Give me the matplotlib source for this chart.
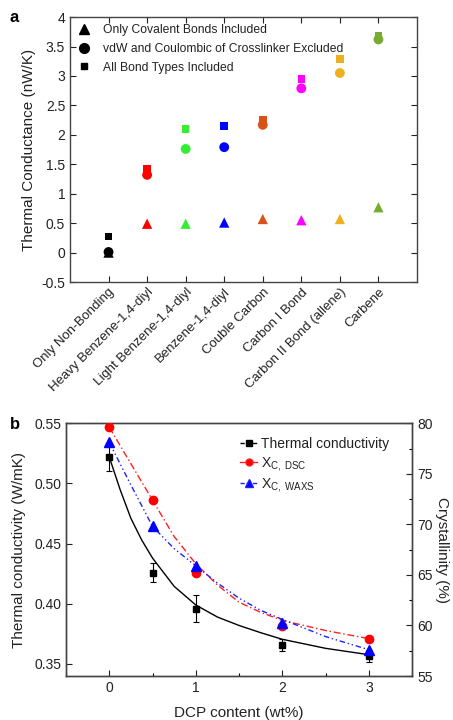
import matplotlib
matplotlib.use("Agg")
import matplotlib.pyplot as plt
from matplotlib.lines import Line2D
from matplotlib.ticker import MultipleLocator, FuncFormatter

plt.rcParams['font.family'] = ['Liberation Sans', 'DejaVu Sans']
plt.rcParams['mathtext.fontset'] = 'custom'
plt.rcParams['mathtext.rm'] = 'Liberation Sans'
plt.rcParams['mathtext.it'] = 'Liberation Sans'

# ---------------- Panel a data ----------------
categories = ["Only Non-Bonding", "Heavy Benzene-1,4-diyl", "Light Benzene-1,4-diyl",
              "Benzene-1,4-diyl", "Couble Carbon", "Carbon I Bond",
              "Carbon II Bond (allene)", "Carbene"]
colors_a = ["#000000", "#ff0000", "#33ee33", "#0000ff", "#d95319", "#ff00ff", "#edb120", "#77ac30"]
covalent_only = [0.00, 0.49, 0.49, 0.51, 0.57, 0.55, 0.57, 0.77]
vdw_excluded = [0.01, 1.32, 1.76, 1.79, 2.17, 2.79, 3.05, 3.62]
all_bonds = [0.27, 1.42, 2.10, 2.15, 2.25, 2.95, 3.29, 3.69]
legend_a = ["Only Covalent Bonds Included", "vdW and Coulombic of Crosslinker Excluded",
            "All Bond Types Included"]

# ---------------- Panel b data ----------------
dcp = [0, 0.5, 1, 2, 3]
tc = [0.522, 0.426, 0.396, 0.366, 0.357]
tc_err = [0.012, 0.008, 0.011, 0.005, 0.005]
xc_dsc = [79.6, 72.4, 65.2, 59.9, 58.7]
xc_waxs = [78.1, 69.8, 65.9, 60.2, 57.6]
# fitted curves
tc_fit_x = [0, 0.125, 0.25, 0.375, 0.5, 0.75, 1, 1.25, 1.5, 1.75, 2, 2.5, 3]
tc_fit = [0.522, 0.495, 0.471, 0.453, 0.438, 0.4145, 0.399, 0.389, 0.382, 0.376, 0.3705, 0.363, 0.3577]
xc_fit_x = [0, 0.25, 0.5, 0.75, 1, 1.25, 1.5, 1.75, 2, 2.5, 3]
dsc_fit = [79.6, 76.0, 72.4, 68.8, 66.1, 64.0, 62.3, 61.3, 60.5, 59.5, 58.7]
waxs_fit = [78.1, 73.9, 69.8, 67.6, 65.9, 64.2, 62.7, 61.5, 60.6, 58.9, 57.6]

fig = plt.figure(figsize=(4.53, 7.20), dpi=100)

# ---------------- Panel a ----------------
ax = fig.add_axes([0.1545, 0.6083, 0.766, 0.368])
xs = list(range(1, len(categories) + 1))
ax.scatter(xs, all_bonds, marker='s', s=30, c=colors_a, zorder=3, linewidths=0)
ax.scatter(xs, covalent_only, marker='^', s=55, c=colors_a, zorder=3, linewidths=0)
ax.scatter(xs, vdw_excluded, marker='o', s=50, c=colors_a, zorder=4, linewidths=0)
ax.set_xlim(0, 9)
ax.set_ylim(-0.5, 4)
ax.yaxis.set_major_locator(MultipleLocator(0.5))
ax.yaxis.set_major_formatter(FuncFormatter(lambda v, p: ('%g' % v)))
ax.set_xticks(xs)
ax.set_xticklabels(categories, rotation=45, ha='right', rotation_mode='anchor', fontsize=9.5, color='#222222')
ax.tick_params(direction='in', top=True, right=True, length=4, width=0.8, labelsize=10, colors='#222222')
ax.tick_params(axis='x', pad=3, labelsize=9.5)
ax.set_ylabel("Thermal Conductance (nW/K)", fontsize=11, color='#222222', labelpad=4)
for sp in ax.spines.values():
    sp.set_linewidth(1.0)
    sp.set_color('#444444')
handles_a = [Line2D([], [], ls='none', marker='^', color='k', markersize=7),
             Line2D([], [], ls='none', marker='o', color='k', markersize=7),
             Line2D([], [], ls='none', marker='s', color='k', markersize=5)]
ax.legend(handles_a, legend_a, loc='upper left', frameon=False, fontsize=8.7,
          handlelength=1.2, handletextpad=0.9, borderaxespad=0.2, borderpad=0.4,
          labelspacing=0.55, labelcolor='#222222')
fig.text(0.022, 0.975, "a", fontsize=12, fontweight='bold', va='center')

# ---------------- Panel b ----------------
bx = fig.add_axes([0.1457, 0.0611, 0.764, 0.351])
bx.plot(tc_fit_x, tc_fit, color='k', lw=1.0, zorder=2)
bx.errorbar(dcp, tc, yerr=tc_err, fmt='s', color='k', markersize=5, capsize=2,
            elinewidth=0.8, capthick=0.8, zorder=3)
bx.set_xlim(-0.5, 3.5)
bx.set_ylim(0.34, 0.55)
bx.set_xticks([0, 1, 2, 3])
bx.xaxis.set_minor_locator(MultipleLocator(0.5))
bx.yaxis.set_major_locator(MultipleLocator(0.05))
bx.yaxis.set_major_formatter(FuncFormatter(lambda v, p: '%.2f' % v))
bx.tick_params(direction='in', length=4, width=0.8, labelsize=10, colors='#222222')
bx.tick_params(which='minor', direction='in', length=2, width=0.8)
bx.set_xlabel("DCP content (wt%)", fontsize=11, color='#222222', labelpad=8)
bx.set_ylabel("Thermal conductivity (W/mK)", fontsize=11, color='#222222', labelpad=6)

cx = bx.twinx()
cx.plot(xc_fit_x, dsc_fit, color='#ff2020', lw=1.0, dashes=[5, 2, 1, 2], zorder=2)
cx.plot(xc_fit_x, waxs_fit, color='#2020ff', lw=1.0, dashes=[4, 2, 1, 2, 1, 2], zorder=2)
cx.plot(dcp, xc_dsc, ls='none', marker='o', color='#ff0000', markersize=6, zorder=3)
cx.plot(dcp, xc_waxs, ls='none', marker='^', color='#0000ff', markersize=6.5, zorder=3)
cx.set_ylim(55, 80)
cx.yaxis.set_major_locator(MultipleLocator(5))
cx.yaxis.set_minor_locator(MultipleLocator(2.5))
cx.tick_params(direction='in', length=4, width=0.8, labelsize=10, colors='#222222')
cx.tick_params(which='minor', direction='in', length=2, width=0.8)
cx.set_ylabel("Crystallinity (%)", fontsize=11, color='#222222', rotation=270, labelpad=12)
for a_ in (bx, cx):
    for sp in a_.spines.values():
        sp.set_linewidth(1.0)
        sp.set_color('#444444')

handles_b = [Line2D([], [], color='k', lw=1.0, dashes=[3, 1.5], marker='s', markersize=4),
             Line2D([], [], color='#ff2020', lw=1.0, marker='o', markersize=5, markerfacecolor='#ff0000'),
             Line2D([], [], color='#2020ff', lw=1.0, dashes=[3, 1.5], marker='^', markersize=5.5, markerfacecolor='#0000ff')]
labels_b = ["Thermal conductivity", r"X$_{\mathregular{C,\ DSC}}$", r"X$_{\mathregular{C,\ WAXS}}$"]
cx.legend(handles_b, labels_b, loc='upper right', bbox_to_anchor=(0.97, 0.995), frameon=False,
          fontsize=10, handlelength=1.2, handletextpad=0.3, labelspacing=0.25, labelcolor='#222222')
fig.text(0.022, 0.411, "b", fontsize=12, fontweight='bold', va='center')

fig.savefig("out.png", dpi=100)
